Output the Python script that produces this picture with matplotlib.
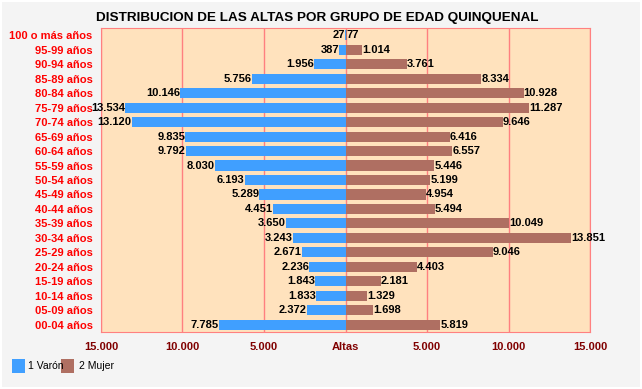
import matplotlib.pyplot as plt
from matplotlib.patches import Rectangle

# datos del grafico (de arriba a abajo)
grupos = ['100 o más años', '95-99 años', '90-94 años', '85-89 años', '80-84 años',
          '75-79 años', '70-74 años', '65-69 años', '60-64 años', '55-59 años',
          '50-54 años', '45-49 años', '40-44 años', '35-39 años', '30-34 años',
          '25-29 años', '20-24 años', '15-19 años', '10-14 años', '05-09 años',
          '00-04 años']
varon = [27, 387, 1956, 5756, 10146, 13534, 13120, 9835, 9792, 8030, 6193,
         5289, 4451, 3650, 3243, 2671, 2236, 1843, 1833, 2372, 7785]
mujer = [77, 1014, 3761, 8334, 10928, 11287, 9646, 6416, 6557, 5446, 5199,
         4954, 5494, 10049, 13851, 9046, 4403, 2181, 1329, 1698, 5819]
ticks = [-15000, -10000, -5000, 0, 5000, 10000, 15000]
tick_labels = ['15.000', '10.000', '5.000', 'Altas', '5.000', '10.000', '15.000']

azul = '#409FFF'
marron = '#AF6F62'
rojo = '#FF8080'

def fmt(v):
    return '{:,}'.format(v).replace(',', '.')

plt.rcParams['font.family'] = ['Liberation Sans', 'DejaVu Sans']

fig = plt.figure(figsize=(6.42, 3.89), dpi=100, facecolor='white')
fig.patches.append(Rectangle((2 / 642, 2 / 389), 638 / 642, 385 / 389,
                             transform=fig.transFigure, facecolor='#F4F4F4',
                             edgecolor='none', zorder=-1))
ax = fig.add_axes([101 / 642, 57 / 389, 489 / 642, 304 / 389])
ax.set_facecolor('#FFE2BD')

y = list(range(len(grupos)))
ax.barh(y, [-v for v in varon], height=0.7, color=azul, zorder=3)
ax.barh(y, mujer, height=0.7, color=marron, zorder=3)

for i in y:
    ax.text(-varon[i], i, fmt(varon[i]), ha='right', va='center',
            fontsize=8, fontweight='bold', color='black', zorder=4)
    ax.text(mujer[i], i, fmt(mujer[i]), ha='left', va='center',
            fontsize=8, fontweight='bold', color='black', zorder=4)

ax.set_xlim(-15000, 15000)
ax.set_ylim(len(grupos) - 0.5, -0.5)
ax.set_xticks(ticks)
ax.set_xticklabels(tick_labels, fontsize=8, fontweight='bold', color='#800000')
ax.set_yticks(y)
ax.set_yticklabels(grupos, fontsize=8, fontweight='bold', color='#FF0000')
ax.tick_params(length=0, pad=7)
ax.tick_params(axis='y', pad=6)
for t in ticks:
    ax.axvline(t, color=rojo, lw=1, zorder=1)
for s in ax.spines.values():
    s.set_color(rojo)

fig.text(317 / 642, 1 - 18 / 389, 'DISTRIBUCION DE LAS ALTAS POR GRUPO DE EDAD QUINQUENAL',
         ha='center', va='center', fontsize=9.7, fontweight='bold')

# leyenda
fig.patches.append(Rectangle((12 / 642, 16 / 389), 13 / 642, 14 / 389,
                             transform=fig.transFigure, facecolor=azul))
fig.text(28 / 642, 23 / 389, '1 Varón', fontsize=7.5, va='center')
fig.patches.append(Rectangle((61 / 642, 16 / 389), 13 / 642, 14 / 389,
                             transform=fig.transFigure, facecolor=marron))
fig.text(79 / 642, 23 / 389, '2 Mujer', fontsize=7.5, va='center')

fig.savefig('out.png', dpi=100, facecolor=fig.get_facecolor())
